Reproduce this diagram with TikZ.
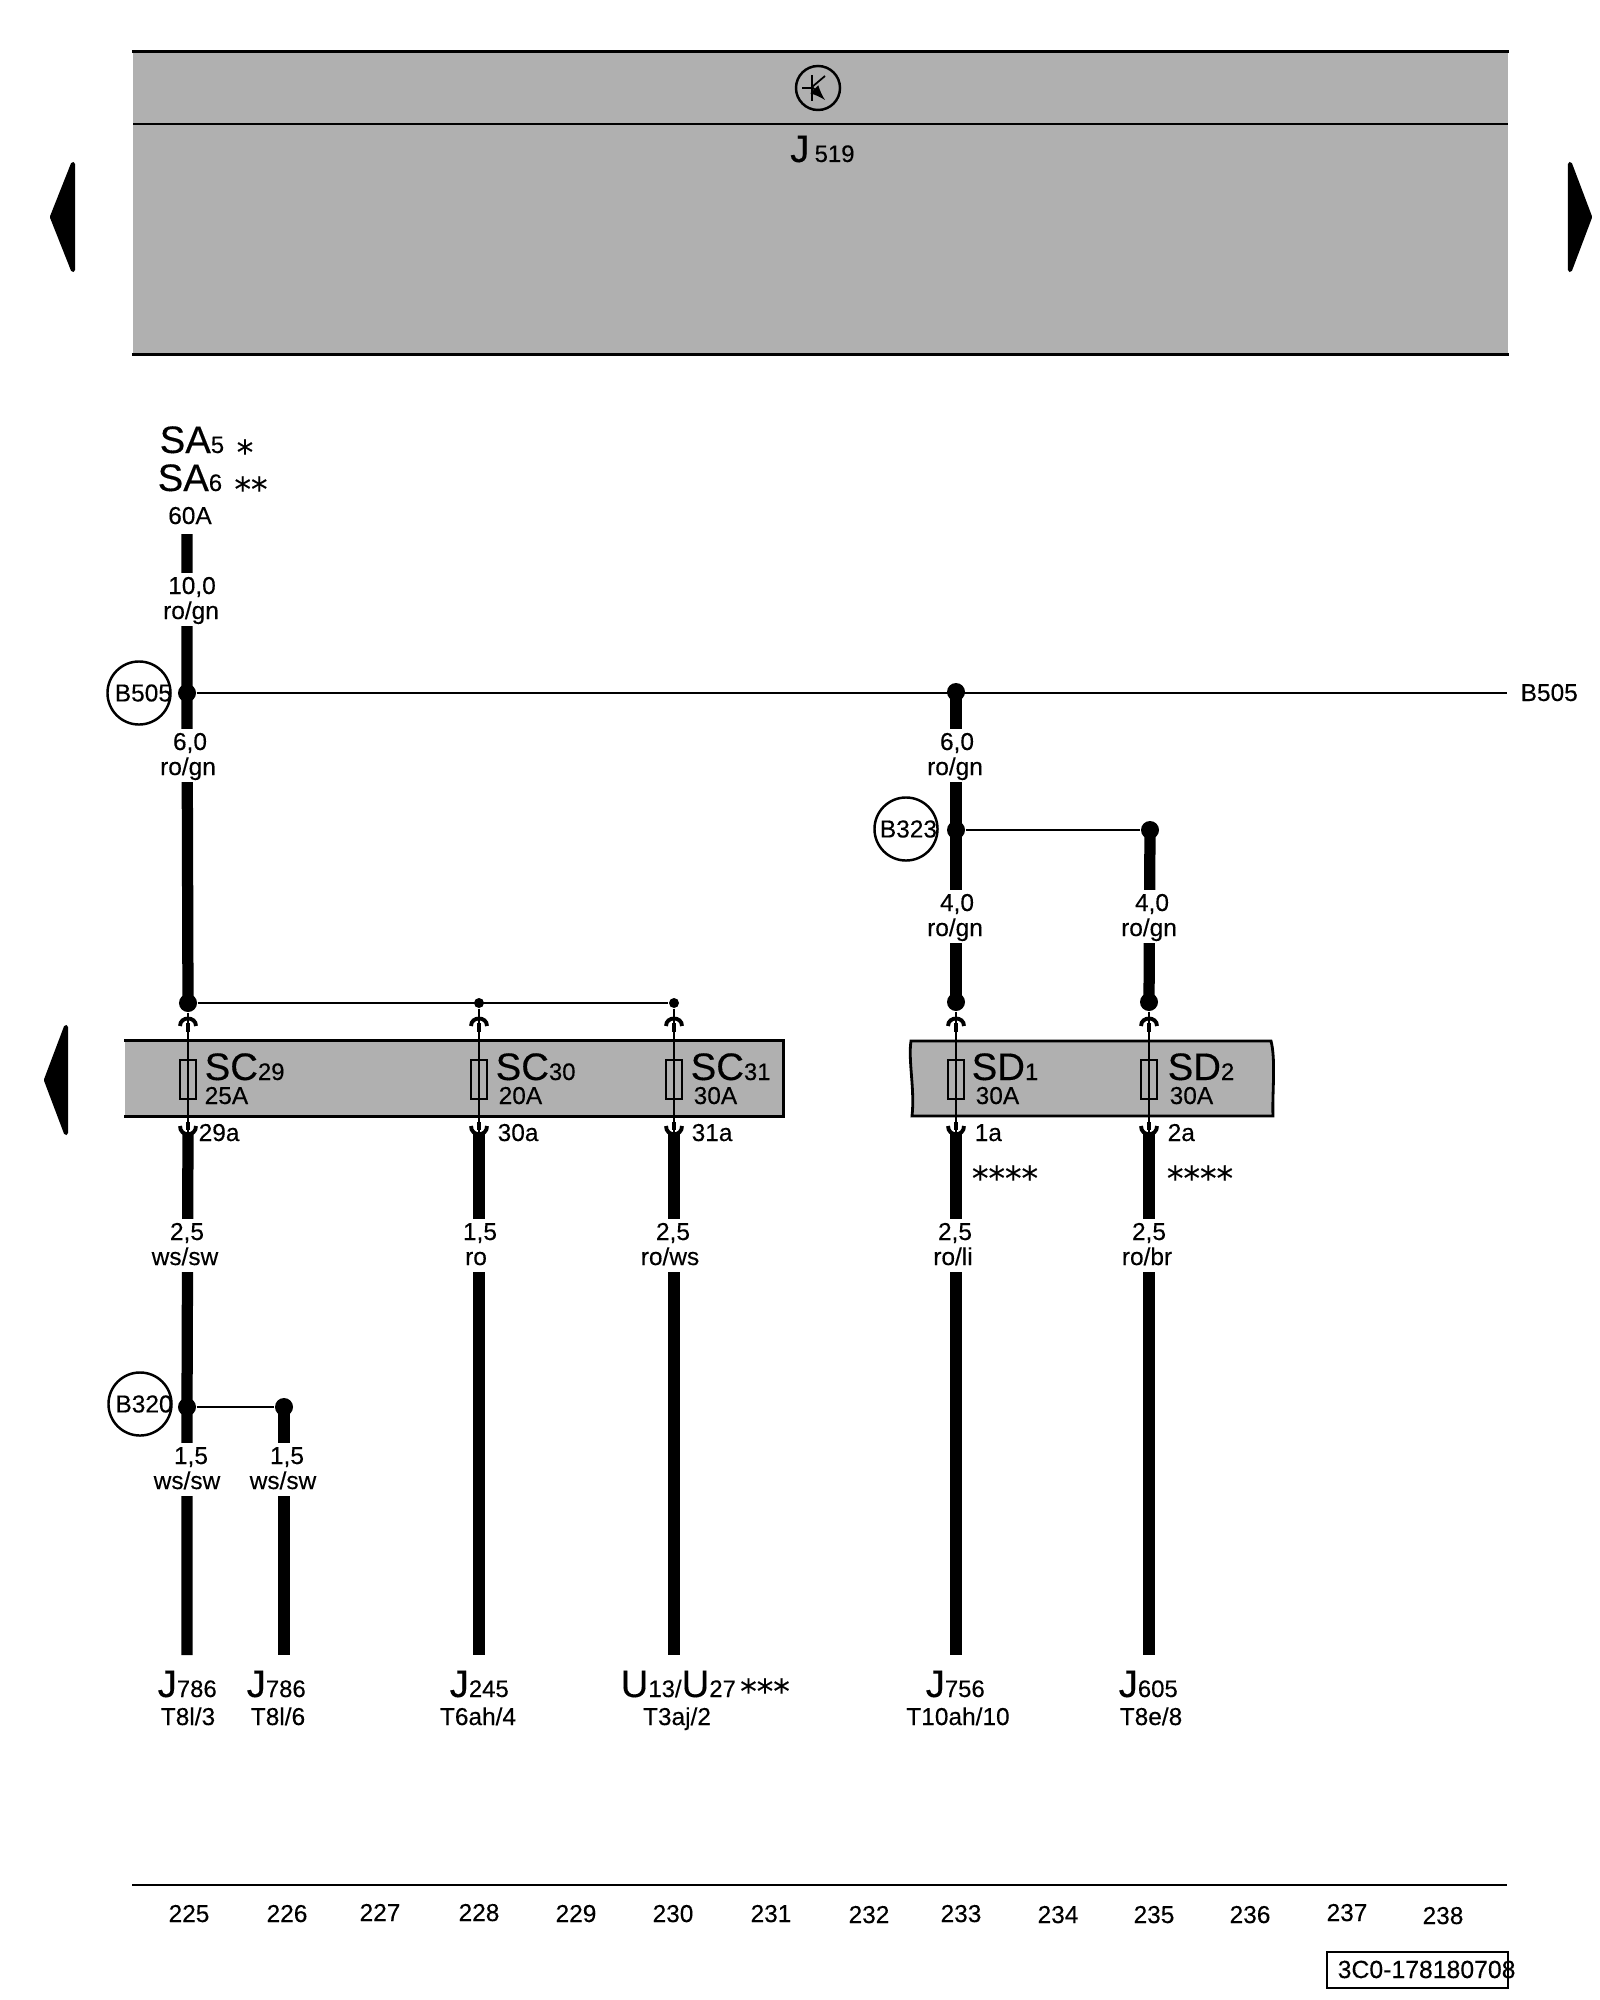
\documentclass[tikz,border=0pt]{standalone}
\usepackage{fontspec}
\setmainfont{Liberation Sans}[FakeBold=0.25]
\newfontfamily\starfont{DejaVu Sans}[FakeBold=0.25]
\definecolor{boxgray}{HTML}{B0B0B0}
\newcommand{\tagname}[2]{{\fontsize{10.9}{12}\selectfont #1}{\fontsize{6.8}{8}\selectfont #2}}
\tikzstyle{lbl} = [inner sep=0pt, anchor=base, font=\fontsize{6.95}{8}\selectfont]
\tikzstyle{wsize} = [lbl, fill=white, text height=0.21cm, text depth=0.04cm]
\tikzstyle{wcolor} = [lbl, fill=white, text height=0.21cm, text depth=0.07cm]
\tikzstyle{tag} = [inner sep=0pt, anchor=base west]
\tikzstyle{stars} = [inner sep=0pt, anchor=base, font=\fontsize{9.4}{10}\starfont]
\tikzstyle{dot} = [circle, fill=black, inner sep=0pt, minimum size=0.18cm]
\tikzstyle{smalldot} = [circle, fill=black, inner sep=0pt, minimum size=0.1cm]
\tikzstyle{splice} = [circle, draw=black, line width=0.7pt, inner sep=0pt, minimum size=0.63cm, font=\fontsize{6.95}{8}\selectfont]
\tikzstyle{wire} = [line width=3.2pt]
\tikzstyle{thinwire} = [line width=0.75pt]
\tikzstyle{pinarc} = [line width=1.1pt]
\tikzstyle{rail} = [line width=0.8pt]
\tikzstyle{pagemark} = [fill=black, draw=black, line width=1.2pt, line join=round]
\tikzstyle{fuse} = [draw=black, line width=0.5pt, inner sep=0pt, minimum width=0.16cm, minimum height=0.39cm]
\tikzstyle{bar} = [fill=boxgray, inner sep=0pt]

\begin{document}
\begin{tikzpicture}[x=0.01cm,y=-0.01cm]
    \useasboundingbox (0,0) rectangle (1600,2000);

    % control unit at the top
    \node[bar,minimum width=13.75cm,minimum height=3.02cm](J519box) at (820.5,203){};
    \draw[rail](J519box.north west)--(J519box.north east);
    \draw[rail](J519box.south west)--(J519box.south east);
    \draw[rail](133,124)--(1508,124);
    \node[circle,draw=black,line width=0.7pt,inner sep=0pt,minimum size=0.44cm](trans) at (818,88){};
    \draw[line width=0.5pt](802,88)--(812,88);
    \draw[line width=0.5pt](812,75)--(812,101);
    \draw[line width=0.5pt](812,87)--(825,76);
    \draw[line width=0.5pt,-latex](812,87)--(825,100);
    \node[tag](J519) at (789.5,162){\tagname{J}{\kern1.5pt 519}};

    \draw[pagemark](73,164)--(73,270)--(52,217)--cycle;
    \draw[pagemark](1570,164)--(1570,270)--(1590,217)--cycle;
    \draw[pagemark](66,1027)--(66,1133)--(46,1080)--cycle;

    % fuse carriers
    \node[bar,minimum width=6.58cm,minimum height=0.75cm](SCbar) at (454,1078.5){};
    \draw[rail](SCbar.north west)--(SCbar.north east)--(SCbar.south east)--(SCbar.south west);
    \draw[rail,fill=boxgray](911,1041)--(1271,1041) .. controls (1276,1060) and (1272,1095) .. (1273,1116)
        --(912,1116) .. controls (915,1090) and (908,1060) .. (911,1041)--cycle;

    % junctions
    \coordinate (SAend) at (187,534);
    \node[dot](B505j) at (187,693){};
    \node[dot](B505k) at (956,692){};
    \coordinate (B505end) at (1507,693);
    \node[dot](B323j) at (956,830){};
    \node[dot](B323k) at (1150,830){};
    \node[dot](SC29dot) at (188,1003){};
    \node[smalldot](SC30dot) at (479,1003){};
    \node[smalldot](SC31dot) at (674,1003){};
    \node[dot](SD1dot) at (956,1002){};
    \node[dot](SD2dot) at (1149,1002){};
    \node[dot](B320j) at (187,1407){};
    \node[dot](B320k) at (284,1407){};
    \foreach \name/\fx in {SC29/188,SC30/479,SC31/674,SD1/956,SD2/1149}{
      \coordinate (\name out) at (\fx,1134);
    }
    \coordinate (J786a) at (187,1655);
    \coordinate (J786b) at (284,1655);
    \coordinate (J245a) at (479,1655);
    \coordinate (U13a) at (674,1655);
    \coordinate (J756a) at (956,1655);
    \coordinate (J605a) at (1149,1655);

    % wires
    \draw[wire](SAend)--(B505j.center)--(SC29dot.center);
    \draw[thinwire](B505j)--(B505end);
    \draw[wire](B505k.center)--(B323j.center)--(SD1dot.center);
    \draw[thinwire](B323j)--(B323k);
    \draw[wire](B323k.center)--(SD2dot.center);
    \draw[thinwire](SC29dot)--(SC31dot);
    \draw[wire](SC29out)--(B320j.center)--(J786a);
    \draw[thinwire](B320j)--(B320k);
    \draw[wire](B320k.center)--(J786b);
    \draw[wire](SC30out)--(J245a);
    \draw[wire](SC31out)--(U13a);
    \draw[wire](SD1out)--(J756a);
    \draw[wire](SD2out)--(J605a);

    % fuses with their pins
    \foreach \name/\fx in {SC29/188,SC30/479,SC31/674,SD1/956,SD2/1149}{
      \draw[thinwire](\name dot)--(\name out);
      \node[fuse](\name fuse) at (\fx,1079.5){};
      \draw[pinarc](\fx-8,1026) .. controls (\fx-8,1016) and (\fx+8,1016) .. (\fx+8,1026);
      \draw[line width=1.2pt](\fx,1023)--(\fx,1032);
      \draw[pinarc](\fx-8,1126) .. controls (\fx-8,1137) and (\fx+8,1137) .. (\fx+8,1126);
      \draw[line width=1.2pt](\fx,1122)--(\fx,1130);
    }

    % splice circles
    \node[splice](B505c) at (139,693){\makebox[0pt]{\kern2.5pt B505}};
    \node[splice](B323c) at (906,829){\makebox[0pt]{\kern1.4pt B323}};
    \node[splice](B320c) at (140,1404){\makebox[0pt]{\kern2.3pt B320}};
    \node[lbl,anchor=base west](B505t) at (1520,701){B505};

    % wire labels
    \node[lbl](SA60) at (190,524){60A};
    \node[wsize](w1s) at (192,594){10,0};
    \node[wcolor](w1c) at (191,619){ro/gn};
    \node[wsize](w2s) at (190,750){6,0};
    \node[wcolor](w2c) at (188,775){ro/gn};
    \node[wsize](w3s) at (957,750){6,0};
    \node[wcolor](w3c) at (955,775){ro/gn};
    \node[wsize](w4s) at (957,911){4,0};
    \node[wcolor](w4c) at (955,936){ro/gn};
    \node[wsize](w5s) at (1152,911){4,0};
    \node[wcolor](w5c) at (1149,936){ro/gn};
    \node[wsize](w6s) at (187,1240){2,5};
    \node[wcolor](w6c) at (185,1265){ws/sw};
    \node[wsize](w7s) at (480,1240){1,5};
    \node[wcolor](w7c) at (476,1265){ro};
    \node[wsize](w8s) at (673,1240){2,5};
    \node[wcolor](w8c) at (670,1265){ro/ws};
    \node[wsize](w9s) at (955,1240){2,5};
    \node[wcolor](w9c) at (953,1265){ro/li};
    \node[wsize](w10s) at (1149,1240){2,5};
    \node[wcolor](w10c) at (1147,1265){ro/br};
    \node[wsize](w11s) at (191,1464){1,5};
    \node[wcolor](w11c) at (187,1489){ws/sw};
    \node[wsize](w12s) at (287,1464){1,5};
    \node[wcolor](w12c) at (283,1489){ws/sw};

    % component tags
    \node[tag](SA5) at (159,453){\tagname{SA}{5}};
    \node[stars](SA5s) at (245,464){*};
    \node[tag](SA6) at (157,491){\tagname{SA}{6}};
    \node[stars](SA6s) at (251,501){**};
    \node[tag](SC29) at (204,1080){\tagname{SC}{29}};
    \node[tag](SC30) at (495,1080){\tagname{SC}{30}};
    \node[tag](SC31) at (690,1080){\tagname{SC}{31}};
    \node[tag](SD1t) at (971,1080){\tagname{SD}{1}};
    \node[tag](SD2t) at (1167,1080){\tagname{SD}{2}};
    \node[lbl,anchor=base west](A25) at (204,1104){25A};
    \node[lbl,anchor=base west](A20) at (498,1104){20A};
    \node[lbl,anchor=base west](A30a) at (693,1104){30A};
    \node[lbl,anchor=base west](A30b) at (975,1104){30A};
    \node[lbl,anchor=base west](A30c) at (1169,1104){30A};
    \node[lbl,anchor=base west](p29a) at (198,1141){29a};
    \node[lbl,anchor=base west](p30a) at (497,1141){30a};
    \node[lbl,anchor=base west](p31a) at (691,1141){31a};
    \node[lbl,anchor=base west](p1a) at (974,1141){1a};
    \node[lbl,anchor=base west](p2a) at (1167,1141){2a};
    \node[stars](SD1s) at (1005,1190){****};
    \node[stars](SD2s) at (1200,1190){****};

    \node[tag](J786x) at (157,1697){\tagname{J}{786}};
    \node[tag](J786y) at (246,1697){\tagname{J}{786}};
    \node[tag](J245) at (449,1697){\tagname{J}{245}};
    \node[tag](U13) at (620,1697){\tagname{U}{13/}\tagname{U}{27}};
    \node[stars](U13s) at (765,1703){***};
    \node[tag](J756) at (925,1697){\tagname{J}{756}};
    \node[tag](J605) at (1118,1697){\tagname{J}{605}};
    \node[lbl](T8a) at (188,1725){T8l/3};
    \node[lbl](T8b) at (278,1725){T8l/6};
    \node[lbl](T6) at (478,1725){T6ah/4};
    \node[lbl](T3) at (677,1725){T3aj/2};
    \node[lbl](T10) at (958,1725){T10ah/10};
    \node[lbl](T8e) at (1151,1725){T8e/8};

    % current track numbers
    \draw[rail](132,1885)--(1507,1885);
    \foreach \n/\cx/\cy in {225/189/1922,226/287/1922,227/380/1921,228/479/1921,229/576/1922,
      230/673/1922,231/771/1922,232/869/1923,233/961/1922,234/1058/1923,235/1154/1923,
      236/1250/1923,237/1347/1921,238/1443/1924}{
      \node[lbl](col\n) at (\cx,\cy){\n};
    }

    \node[draw=black,line width=0.8pt,inner sep=0pt,minimum width=1.81cm,minimum height=0.36cm](codebox) at (1417.5,1970){};
    \node[lbl,anchor=base west,font=\fontsize{7.05}{8}\selectfont](code) at (1337,1978){3C0-178180708};
  \end{tikzpicture}
\end{document}
